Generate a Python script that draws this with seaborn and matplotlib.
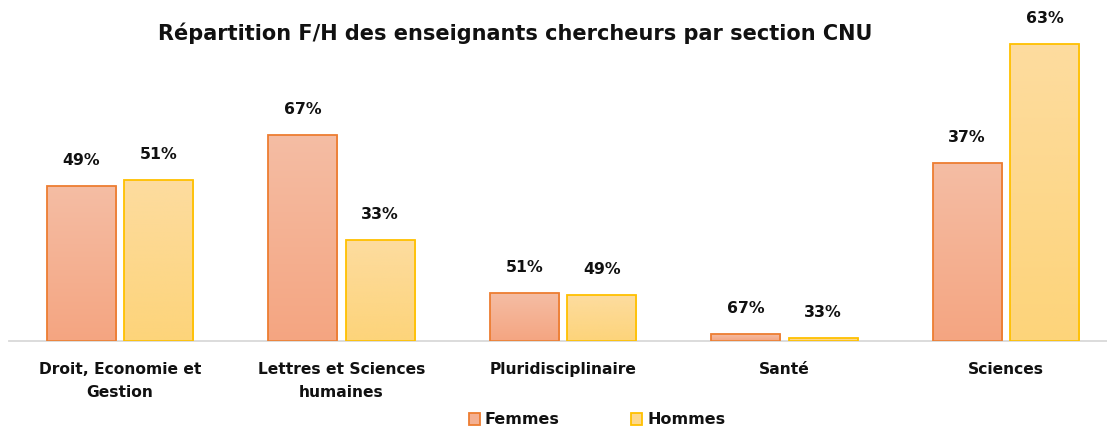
import numpy as np
import pandas as pd
import matplotlib
matplotlib.use("Agg")
import matplotlib.pyplot as plt
import seaborn as sns
from matplotlib.colors import LinearSegmentedColormap
from matplotlib.patches import Patch

# ---- data ----
categories = ["Droit, Economie et\nGestion", "Lettres et Sciences\nhumaines",
              "Pluridisciplinaire", "Santé", "Sciences"]
series = ["Femmes", "Hommes"]
femmes = [155, 206, 48, 7, 178]
hommes = [161, 101, 46, 3, 297]
femmes_pct = ["49%", "67%", "51%", "67%", "37%"]
hommes_pct = ["51%", "33%", "49%", "33%", "63%"]
title = "Répartition F/H des enseignants chercheurs par section CNU"

# ---- style ----
sns.set_theme(style="white")
plt.rcParams["font.family"] = ["DejaVu Sans"]

grad_top = {"Femmes": "#F4BDA4", "Hommes": "#FDDC9F"}
grad_bot = {"Femmes": "#F5A581", "Hommes": "#FDD47A"}
edges = {"Femmes": "#ED7D31", "Hommes": "#FFC000"}
mid = {"Femmes": "#F4B092", "Hommes": "#FDD88D"}

df = pd.DataFrame({
    "Section": categories * 2,
    "Sexe": [series[0]] * len(categories) + [series[1]] * len(categories),
    "Effectif": femmes + hommes,
})

W, H = 1107, 430
fig = plt.figure(figsize=(W / 100, H / 100), dpi=100)
ax = fig.add_axes([9.25 / W, 89 / H, 1107.5 / W, 311 / H])

sns.barplot(data=df, x="Section", y="Effectif", hue="Sexe", hue_order=series,
            palette=mid, width=0.7, gap=0.108, legend=False, ax=ax,
            errorbar=None)

labels_by = {"Femmes": femmes_pct, "Hommes": hommes_pct}
for cont, s in zip(ax.containers, series):
    cmap = LinearSegmentedColormap.from_list(s, [grad_bot[s], grad_top[s]])
    for bar in cont:
        bar.set_facecolor("none")
        bar.set_edgecolor(edges[s])
        bar.set_linewidth(1.3)
        bar.set_zorder(3)
        x0, w, h = bar.get_x(), bar.get_width(), bar.get_height()
        grad = np.linspace(0, 1, 256).reshape(-1, 1)
        im = ax.imshow(grad, extent=[x0, x0 + w, 0, h], origin="lower",
                       aspect="auto", cmap=cmap, zorder=2)
        im.set_clip_path(bar)
    ax.bar_label(cont, labels=labels_by[s], padding=13, fontsize=11.3,
                 fontweight="bold", color="#111111")

ax.set_xlim(-0.5, 4.5)
ax.set_ylim(0, 311)
ax.set_xlabel("")
ax.set_ylabel("")
ax.set_yticks([])
for sp in ["left", "right", "top"]:
    ax.spines[sp].set_visible(False)
ax.spines["bottom"].set_color("#D9D9D9")
ax.spines["bottom"].set_linewidth(1.3)
ax.tick_params(axis="x", length=0, pad=15)
for t in ax.get_xticklabels():
    t.set_fontweight("bold")
    t.set_fontsize(11.2)
    t.set_linespacing(1.65)
    t.set_color("#111111")

fig.text(515 / W, 1 - 33 / H, title, ha="center", va="center",
         fontsize=15, fontweight="bold", color="#111111")

handles = [Patch(facecolor=mid[s], edgecolor=edges[s], linewidth=1.3, label=s)
           for s in series]
leg = fig.legend(handles=handles, loc="center", bbox_to_anchor=(597 / W, 1 - 420 / H),
                 ncol=2, frameon=False, handlelength=0.7, handleheight=0.7,
                 handletextpad=0.3, columnspacing=4.5,
                 prop={"weight": "bold", "size": 11.5})
for t in leg.get_texts():
    t.set_color("#111111")

fig.savefig("out.png", dpi=100)
